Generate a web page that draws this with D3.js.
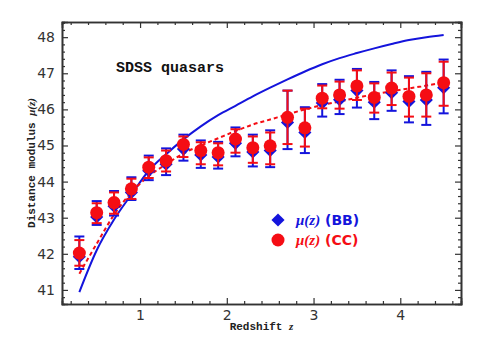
<!DOCTYPE html>
<html>
<head>
<meta charset="utf-8">
<script src="https://cdn.jsdelivr.net/npm/d3@7"></script>
<style>
  body { margin: 0; background: #fff; }
  .axis path, .axis line { stroke: #333; }
  .axis path { stroke-width: 1.6; }
  .axis line { stroke-width: 1.2; }
  .axis text { font-family: "DejaVu Sans", sans-serif; font-size: 14px; fill: #333; }
</style>
</head>
<body>
<svg id="chart" width="487" height="337"></svg>
<script>
const redshift = [0.3, 0.5, 0.7, 0.9, 1.1, 1.3, 1.5, 1.7, 1.9, 2.1, 2.3, 2.5, 2.7, 2.9, 3.1, 3.3, 3.5, 3.7, 3.9, 4.1, 4.3, 4.5];

const muCC = [42.02, 43.14, 43.42, 43.80, 44.40, 44.58, 45.03, 44.86, 44.80, 45.18, 44.94, 44.99, 45.78, 45.49, 46.31, 46.40, 46.65, 46.33, 46.59, 46.36, 46.40, 46.74];
const muCCHigh = [42.38, 43.40, 43.70, 44.08, 44.67, 44.86, 45.25, 45.09, 45.06, 45.45, 45.25, 45.36, 46.52, 46.02, 46.66, 46.77, 47.08, 46.72, 47.02, 46.88, 47.00, 47.32];
const muCCLow = [41.67, 42.85, 43.11, 43.52, 44.10, 44.28, 44.68, 44.48, 44.45, 44.80, 44.52, 44.48, 45.04, 44.97, 46.03, 46.02, 46.26, 45.91, 46.12, 45.80, 45.80, 46.10];

const muBB = [41.92, 43.02, 43.32, 43.70, 44.30, 44.48, 44.90, 44.74, 44.68, 45.06, 44.82, 44.86, 45.64, 45.36, 46.18, 46.27, 46.52, 46.20, 46.46, 46.22, 46.26, 46.60];
const muBBHigh = [42.48, 43.46, 43.74, 44.12, 44.72, 44.92, 45.30, 45.14, 45.10, 45.50, 45.30, 45.42, 46.52, 46.06, 46.70, 46.82, 47.12, 46.76, 47.08, 46.92, 47.04, 47.38];
const muBBLow = [41.58, 42.80, 43.06, 43.49, 44.04, 44.18, 44.58, 44.38, 44.36, 44.70, 44.42, 44.40, 44.90, 44.79, 45.80, 45.87, 46.05, 45.73, 45.96, 45.64, 45.57, 45.89];

// model curves at the same redshifts
const modelSolid = [40.94, 42.10, 42.95, 43.64, 44.30, 44.76, 45.17, 45.53, 45.84, 46.10, 46.36, 46.60, 46.83, 47.05, 47.25, 47.42, 47.56, 47.69, 47.81, 47.92, 48.00, 48.06];
const modelDashed = [41.45, 42.28, 43.08, 43.70, 44.15, 44.48, 44.78, 45.00, 45.20, 45.40, 45.58, 45.72, 45.86, 46.00, 46.12, 46.22, 46.32, 46.42, 46.50, 46.58, 46.66, 46.74];

const xTicks = [1, 2, 3, 4];
const yTicks = [41, 42, 43, 44, 45, 46, 47, 48];

const BLUE = "#1414dc";
const RED = "#f50d14";

const svg = d3.select("#chart");
const box = { left: 62, right: 461, top: 22, bottom: 304 };

const x = d3.scaleLinear().domain([0.1, 4.7]).range([box.left, box.right]);
const y = d3.scaleLinear().domain([40.61, 48.42]).range([box.bottom, box.top]);

const xMinor = d3.range(0.2, 4.7, 0.2).filter(v => Math.abs(v - Math.round(v)) > 0.01);
const yMinor = d3.range(40.8, 48.42, 0.2).filter(v => Math.abs(v - Math.round(v)) > 0.01);

const addAxis = (axisFn, scale, values, size, transform, withLabels) => {
  const a = axisFn(scale).tickValues(values).tickSize(-size).tickPadding(7);
  a.tickFormat(withLabels ? d3.format("d") : "");
  return svg.append("g").attr("class", "axis").attr("transform", transform).call(a);
};

const xAxis = addAxis(d3.axisBottom, x, xTicks, 6, `translate(0,${box.bottom})`, true);
addAxis(d3.axisBottom, x, xMinor, 3, `translate(0,${box.bottom})`, false);
addAxis(d3.axisTop, x, xTicks, 6, `translate(0,${box.top})`, false);
addAxis(d3.axisTop, x, xMinor, 3, `translate(0,${box.top})`, false);
addAxis(d3.axisLeft, y, yTicks, 6, `translate(${box.left},0)`, true);
addAxis(d3.axisLeft, y, yMinor, 3, `translate(${box.left},0)`, false);
addAxis(d3.axisRight, y, yTicks, 6, `translate(${box.right},0)`, false);
addAxis(d3.axisRight, y, yMinor, 3, `translate(${box.right},0)`, false);

xAxis.selectAll("text").attr("dy", null).attr("y", 16);

// model curves
const line = d3.line().x(d => x(d[0])).y(d => y(d[1])).curve(d3.curveMonotoneX);

svg.append("path")
  .datum(redshift.map((z, i) => [z, modelSolid[i]]))
  .attr("d", line)
  .attr("fill", "none")
  .attr("stroke", BLUE)
  .attr("stroke-width", 2);

svg.append("path")
  .datum(redshift.map((z, i) => [z, modelDashed[i]]))
  .attr("d", line)
  .attr("fill", "none")
  .attr("stroke", RED)
  .attr("stroke-width", 2)
  .attr("stroke-dasharray", "4,3");

const drawErrors = function (mu, lo, hi, color) {
  const data = redshift.map((z, i) => ({ z, mu: mu[i], lo: lo[i], hi: hi[i] }));
  const g = svg.append("g").attr("stroke", color).attr("stroke-width", 2);
  g.selectAll(".bar").data(data).enter().append("line")
    .attr("x1", d => x(d.z)).attr("x2", d => x(d.z))
    .attr("y1", d => y(d.lo)).attr("y2", d => y(d.hi));
  g.selectAll(".capHi").data(data).enter().append("line")
    .attr("x1", d => x(d.z) - 5).attr("x2", d => x(d.z) + 5)
    .attr("y1", d => y(d.hi)).attr("y2", d => y(d.hi));
  g.selectAll(".capLo").data(data).enter().append("line")
    .attr("x1", d => x(d.z) - 5).attr("x2", d => x(d.z) + 5)
    .attr("y1", d => y(d.lo)).attr("y2", d => y(d.lo));
  return data;
};

const bbData = drawErrors(muBB, muBBLow, muBBHigh, BLUE);
const diamond = d3.symbol().type(d3.symbolDiamond2).size(110);
svg.append("g").selectAll("path").data(bbData).enter().append("path")
  .attr("d", diamond)
  .attr("transform", d => `translate(${x(d.z)},${y(d.mu)})`)
  .attr("fill", BLUE);

const ccData = drawErrors(muCC, muCCLow, muCCHigh, RED);
svg.append("g").selectAll("circle").data(ccData).enter().append("circle")
  .attr("cx", d => x(d.z))
  .attr("cy", d => y(d.mu))
  .attr("r", 6.5)
  .attr("fill", RED);

// labels
svg.append("text")
  .attr("x", 116).attr("y", 72)
  .attr("font-family", "Liberation Mono, monospace")
  .attr("font-weight", "bold")
  .attr("font-size", 15)
  .attr("fill", "#111")
  .text("SDSS quasars");

const xLabel = svg.append("text")
  .attr("x", (box.left + box.right) / 2).attr("y", 330)
  .attr("text-anchor", "middle")
  .attr("font-family", "Liberation Mono, monospace")
  .attr("font-weight", "bold")
  .attr("font-size", 11)
  .attr("fill", "#222");
xLabel.append("tspan").text("Redshift ");
xLabel.append("tspan").attr("font-style", "italic").attr("font-family", "Liberation Serif, serif").text("z");

const yLabel = svg.append("text")
  .attr("transform", `translate(35,${(box.top + box.bottom) / 2}) rotate(-90)`)
  .attr("text-anchor", "middle")
  .attr("font-family", "Liberation Mono, monospace")
  .attr("font-weight", "bold")
  .attr("font-size", 11)
  .attr("fill", "#222");
yLabel.append("tspan").text("Distance modulus ");
yLabel.append("tspan").attr("font-style", "italic").attr("font-family", "Liberation Serif, serif").text("μ(z)");

// legend
const legend = [
  { label: "(BB)", color: BLUE, shape: "diamond", y: 220 },
  { label: "(CC)", color: RED, shape: "circle", y: 240 }
];
legend.forEach(item => {
  if (item.shape === "diamond") {
    svg.append("path").attr("d", diamond)
      .attr("transform", `translate(278,${item.y})`).attr("fill", item.color);
  } else {
    svg.append("circle").attr("cx", 278).attr("cy", item.y).attr("r", 6.5).attr("fill", item.color);
  }
  const t = svg.append("text")
    .attr("x", 296).attr("y", item.y + 5)
    .attr("font-size", 15).attr("font-weight", "bold")
    .attr("fill", item.color);
  t.append("tspan").attr("font-family", "Liberation Serif, serif").attr("font-style", "italic").text("μ(z)");
  t.append("tspan").attr("font-family", "DejaVu Sans, sans-serif").attr("font-size", 14).text(" " + item.label);
});
</script>
</body>
</html>
